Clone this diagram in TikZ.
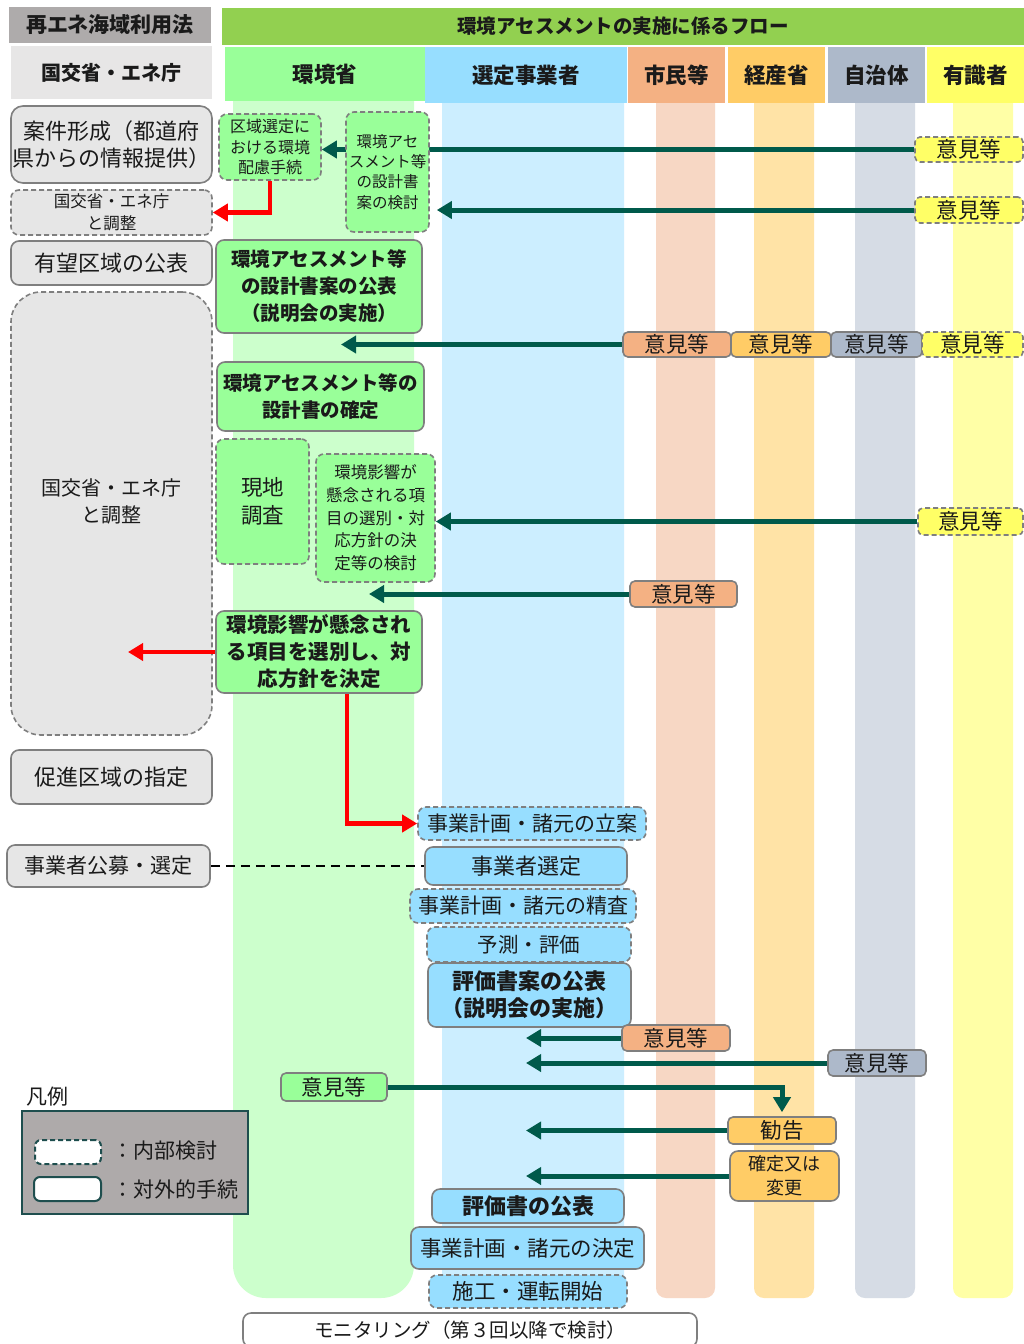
\documentclass[tikz,border=0pt]{standalone}
\usepackage{fontspec}
\setmainfont{Noto Sans CJK JP}
\usetikzlibrary{arrows.meta}

\definecolor{hdgray}{HTML}{AEABAB}
\definecolor{titlegreen}{HTML}{92D050}
\definecolor{hdlight}{HTML}{E7E6E6}
\definecolor{boxgray}{HTML}{E6E6E6}
\definecolor{boxgreen}{HTML}{99FF99}
\definecolor{boxblue}{HTML}{97DEFF}
\definecolor{boxorange}{HTML}{F4B183}
\definecolor{boxgold}{HTML}{FFCC66}
\definecolor{boxslate}{HTML}{ADB9CA}
\definecolor{boxyellow}{HTML}{FFFF66}
\definecolor{lanegreen}{HTML}{CCFFCC}
\definecolor{laneblue}{HTML}{CCEEFF}
\definecolor{laneorange}{HTML}{F7D7C4}
\definecolor{lanegold}{HTML}{FFE3A6}
\definecolor{laneslate}{HTML}{D6DCE5}
\definecolor{laneyellow}{HTML}{FFFFA6}
\definecolor{flowteal}{HTML}{005A4B}
\definecolor{bordergray}{HTML}{7F7F7F}
\definecolor{legendedge}{HTML}{1E4E4E}
\definecolor{legendfill}{HTML}{AEAAAA}
\definecolor{txt}{HTML}{1A1A1A}

\newcommand\fs[2]{\fontsize{#1pt}{#2pt}\selectfont}
% box placed by its corner coordinates: style, name, x1, y1, x2, y2, text
\newcommand\boxnode[7]{%
  \node[#1, minimum width={#5-#3}, minimum height={#6-#4}] (#2)
    at ({(#3+#5)/2},{(#4+#6)/2}) {#7};}

\pgfdeclarelayer{lanes}
\pgfdeclarelayer{arrows}
\pgfsetlayers{lanes,arrows,main}

\begin{document}
\begin{tikzpicture}[x=1pt,y=-1pt,
  hdr/.style={inner sep=0, align=center, text=txt, font=\bfseries\fs{21.5}{26}},
  box/.style={draw=bordergray, line width=1.6pt, rounded corners=8pt,
    inner sep=0, align=center, text=txt, font=\fs{21.5}{27}},
  internal/.style={box, dash pattern=on 5pt off 3pt},
  kbox/.style={box, fill=boxgray},
  gbox/.style={box, fill=boxgreen},
  bbox/.style={box, fill=boxblue},
  obox/.style={box, fill=boxorange, rounded corners=5pt},
  mbox/.style={box, fill=boxgold, rounded corners=5pt},
  jbox/.style={box, fill=boxslate, rounded corners=5pt},
  ybox/.style={internal, fill=boxyellow, rounded corners=5pt},
  heavy/.style={font=\bfseries\fs{19.5}{27}},
  teal arrow/.style={draw=flowteal, line width=5pt, -{Triangle[length=15pt,width=17pt]}},
  red arrow/.style={draw=red, line width=4.5pt, -{Triangle[length=15pt,width=17pt]}},
  lane/.style={rounded corners=10pt}
]
\useasboundingbox (0,0) rectangle (1024,1344);

% ---------- swim lanes and headers ----------
\begin{pgfonlayer}{lanes}
  \fill[white] (0,0) rectangle (1024,1344);
  \fill[lanegreen, rounded corners=33pt] (233,60) rectangle (414,1298);
  \fill[laneblue, lane] (442,60) rectangle (624,1298);
  \fill[laneorange, lane] (656,60) rectangle (715,1298);
  \fill[lanegold, lane] (754,60) rectangle (814,1298);
  \fill[laneslate, lane] (855,60) rectangle (915,1298);
  \fill[laneyellow, lane] (953,60) rectangle (1013,1298);

  \boxnode{hdr, fill=hdgray, font=\bfseries\fs{21}{26}}{hlaw}{9}{7}{211}{43}{再エネ海域利用法}
  \boxnode{hdr, fill=titlegreen, font=\bfseries\fs{19.5}{24}}{htitle}{222}{8}{1024}{45}{環境アセスメントの実施に係るフロー}
  \boxnode{hdr, fill=hdlight, font=\bfseries\fs{20}{24}}{hmlit}{11}{46}{212}{99}{国交省・エネ庁}
  \boxnode{hdr, fill=boxgreen}{henv}{225}{47}{425}{101}{環境省}
  \boxnode{hdr, fill=boxblue}{hbiz}{425}{47}{627}{103}{選定事業者}
  \boxnode{hdr, fill=boxorange}{hcit}{628}{47}{725}{103}{市民等}
  \boxnode{hdr, fill=boxgold}{hmeti}{728}{47}{825}{103}{経産省}
  \boxnode{hdr, fill=boxslate}{hloc}{828}{47}{925}{103}{自治体}
  \boxnode{hdr, fill=boxyellow}{hexp}{927}{47}{1024}{103}{有識者}
\end{pgfonlayer}

% ---------- 国交省・エネ庁 column ----------
\boxnode{kbox, rounded corners=12pt, font=\fs{22}{27}}{case}{11}{106}{212}{183}{案件形成（都道府\\県からの情報提供）}
\boxnode{kbox, internal, font=\fs{16.5}{22}}{adjA}{11}{190}{212}{235}{国交省・エネ庁\\と調整}
\boxnode{kbox, font=\fs{22}{27}}{promise}{11}{241}{212}{285}{有望区域の公表}
\boxnode{kbox, internal, rounded corners=30pt}{adjB}{11}{292}{212}{735}{}
\node[inner sep=0, align=center, text=txt, font=\fs{20}{27}] (adjBtext) at (111,501) {国交省・エネ庁\\と調整};
\boxnode{kbox, font=\fs{22}{27}}{promo}{11}{750}{212}{804}{促進区域の指定}
\boxnode{kbox, font=\fs{21}{27}}{tender}{7}{845}{210}{887}{事業者公募・選定}

% ---------- 環境省 column ----------
\boxnode{gbox, internal, font=\fs{16}{20.5}}{zone}{219}{114}{321}{180}{区域選定に\\おける環境\\配慮手続}
\boxnode{gbox, internal, font=\fs{15.5}{20.3}}{draft}{346}{112}{429}{232}{環境アセ\\スメント等\\の設計書\\案の検討}
\boxnode{gbox, heavy}{publish}{216}{240}{422}{333}{環境アセスメント等\\の設計書案の公表\\（説明会の実施）}
\boxnode{gbox, heavy}{confirm}{217}{362}{424}{431}{環境アセスメント等の\\設計書の確定}
\boxnode{gbox, internal, font=\fs{21.5}{28}}{survey}{216}{439}{309}{564}{現地\\調査}
\boxnode{gbox, internal, font=\fs{16.5}{22.7}}{review}{316}{454}{435}{582}{環境影響が\\懸念される項\\目の選別・対\\応方針の決\\定等の検討}
\boxnode{gbox, heavy, font=\bfseries\fs{20.5}{27}}{decide}{216}{611}{422}{693}{環境影響が懸念され\\る項目を選別し、対\\応方針を決定}

% ---------- 選定事業者 column ----------
\boxnode{bbox, internal, font=\fs{21}{26}}{plan}{418}{807}{646}{840}{事業計画・諸元の立案}
\boxnode{bbox, font=\fs{22}{26}}{select}{425}{847}{627}{885}{事業者選定}
\boxnode{bbox, internal, font=\fs{21}{26}}{refine}{410}{889}{636}{923}{事業計画・諸元の精査}
\boxnode{bbox, internal, font=\fs{20.5}{26}}{predict}{427}{927}{631}{962}{予測・評価}
\boxnode{bbox, font=\bfseries\fs{22}{27}}{evdraft}{428}{963}{631}{1027}{評価書案の公表\\（説明会の実施）}
\boxnode{bbox, font=\bfseries\fs{22}{26}}{evfinal}{432}{1189}{624}{1223}{評価書の公表}
\boxnode{bbox, font=\fs{21.5}{26}}{fix}{411}{1227}{644}{1269}{事業計画・諸元の決定}
\boxnode{bbox, internal, font=\fs{21.5}{26}}{build}{429}{1275}{627}{1308}{施工・運転開始}
\boxnode{box, fill=white, font=\fs{19.5}{24}}{monitor}{243}{1313}{697}{1347}{モニタリング（第３回以降で検討）}

% ---------- 意見等 ----------
\boxnode{ybox}{expA}{915}{137}{1023}{162}{意見等}
\boxnode{ybox}{expB}{915}{197}{1023}{223}{意見等}
\boxnode{obox}{citA}{623}{332}{731}{357}{意見等}
\boxnode{mbox}{metiA}{731}{332}{831}{357}{意見等}
\boxnode{jbox}{locA}{831}{332}{922}{357}{意見等}
\boxnode{ybox}{expC}{922}{332}{1023}{357}{意見等}
\boxnode{ybox}{expD}{918}{508}{1023}{535}{意見等}
\boxnode{obox}{citB}{630}{581}{737}{607}{意見等}
\boxnode{obox}{citC}{622}{1025}{730}{1051}{意見等}
\boxnode{jbox}{locB}{828}{1050}{926}{1076}{意見等}
\boxnode{gbox, rounded corners=5pt}{envop}{281}{1073}{387}{1101}{意見等}
\boxnode{mbox}{advice}{728}{1117}{836}{1144}{勧告}
\boxnode{mbox, rounded corners=8pt, font=\fs{18}{24}}{change}{730}{1151}{839}{1201}{確定又は\\変更}

% ---------- legend ----------
\node[anchor=west, inner sep=0, text=txt, font=\fs{21}{26}] (legtitle) at (26,1097) {凡例};
\boxnode{draw=legendedge, line width=2pt, fill=legendfill}{legbox}{22}{1111}{248}{1214}{}
\boxnode{draw=legendedge, line width=2pt, fill=white, rounded corners=6pt, dash pattern=on 5pt off 3pt}{legint}{35}{1140}{101}{1164}{}
\boxnode{draw=legendedge, line width=2pt, fill=white, rounded corners=6pt}{legext}{34}{1177}{101}{1201}{}
\node[anchor=west, inner sep=0, text=txt, font=\fs{21}{26}] (leginttext) at (112,1151) {：内部検討};
\node[anchor=west, inner sep=0, text=txt, font=\fs{21}{26}] (legexttext) at (112,1189) {：対外的手続};

% ---------- connectors ----------
\coordinate (tipA) at (341,0);
\coordinate (tipB) at (369,0);
\coordinate (tipC) at (526,0);
\coordinate (tipD) at (128,0);
\coordinate (drop) at (347,0);
\begin{pgfonlayer}{arrows}
  \draw[teal arrow] (expA.west) -- (expA.west -| zone.east);
  \draw[teal arrow, shorten >=7pt] (expB.west) -- (expB.west -| draft.east);
  \draw[teal arrow] (citA.west) -- (citA.west -| tipA);
  \draw[teal arrow] (expD.west) -- (expD.west -| review.east);
  \draw[teal arrow] (citB.west) -- (citB.west -| tipB);
  \draw[teal arrow] (citC.west) -- (citC.west -| tipC);
  \draw[teal arrow] (locB.west) -- (locB.west -| tipC);
  \draw[teal arrow, shorten >=4pt] (envop.east) -| (advice.north);
  \draw[teal arrow] (advice.west) -- (advice.west -| tipC);
  \draw[teal arrow] (change.west) -- (change.west -| tipC);

  \draw[line width=2.5pt, dash pattern=on 9pt off 6pt] (tender.east) -- (select.west);
\end{pgfonlayer}

% red hand-over arrows lie on top of the boxes
\draw[red arrow] (zone.south) |- (adjA.east);
\draw[red arrow] (decide.west) -- (decide.west -| tipD);
\draw[red arrow] (decide.south -| drop) |- (plan.west);
\end{tikzpicture}
\end{document}
